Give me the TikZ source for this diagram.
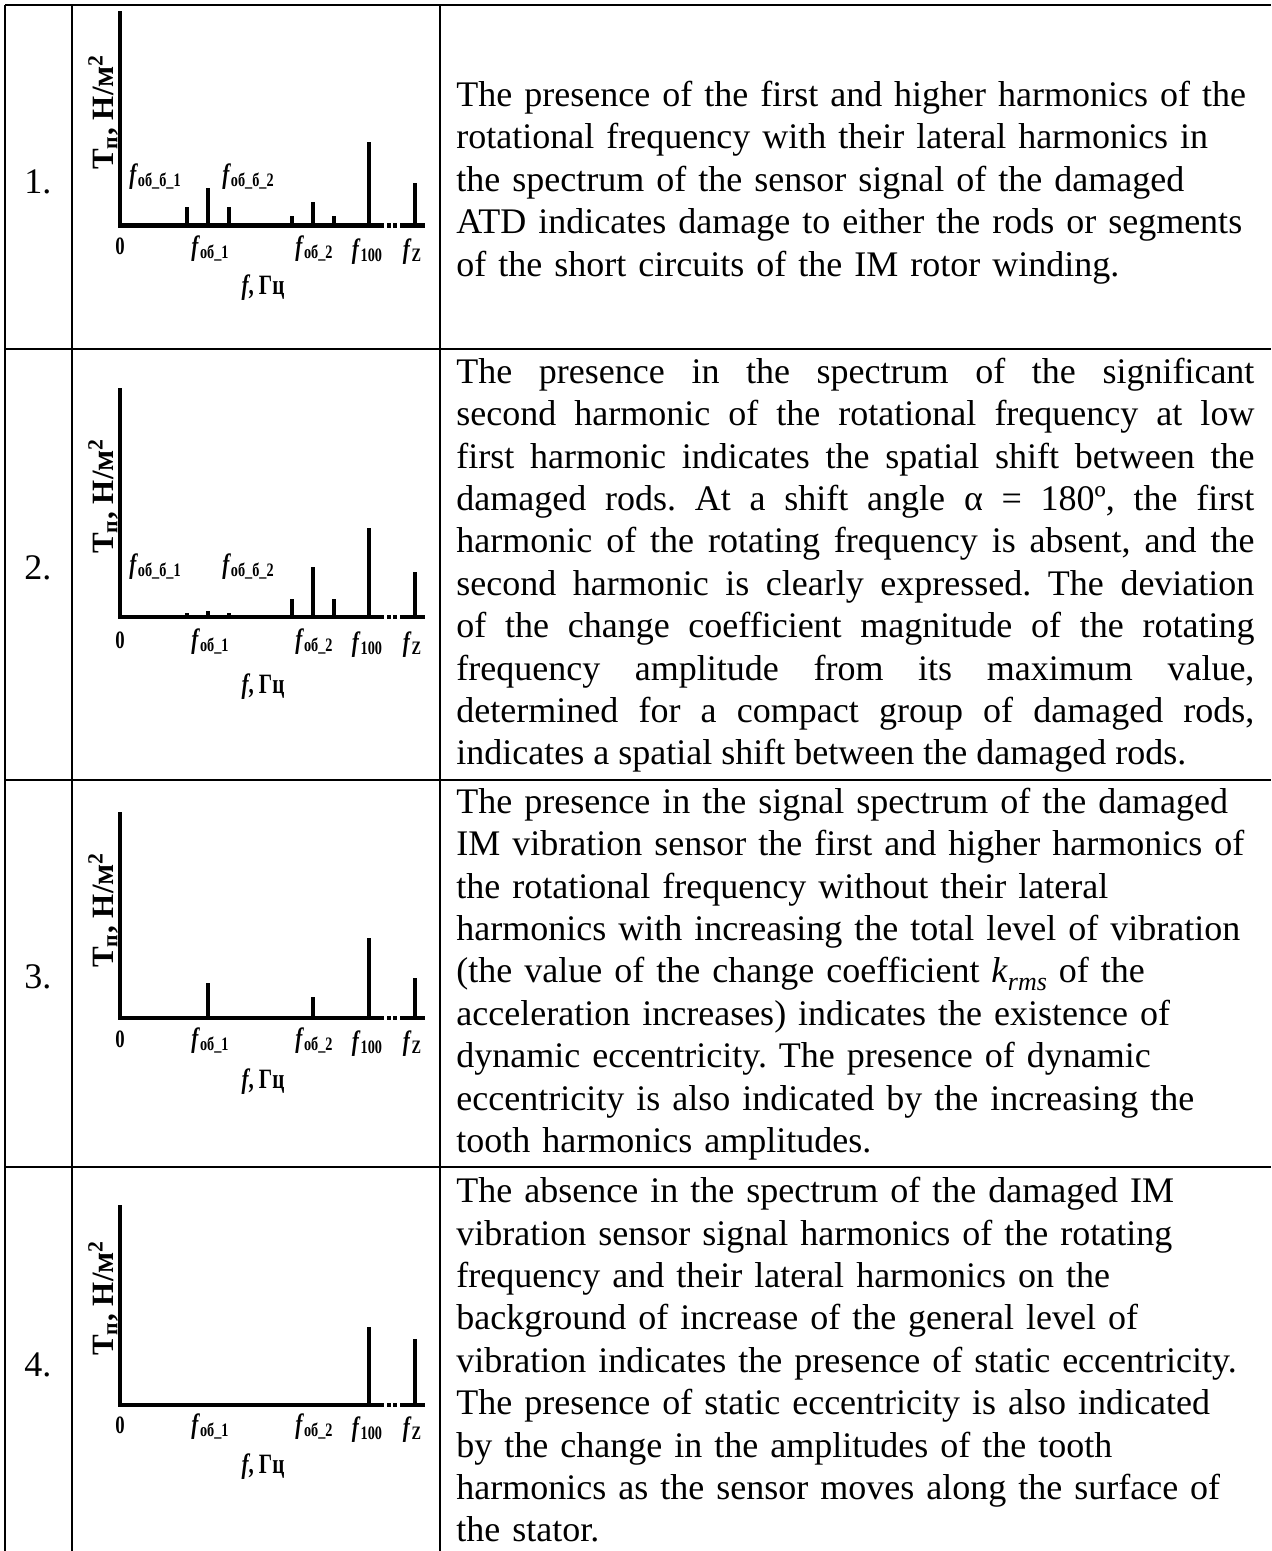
\documentclass[tikz,border=0pt]{standalone}
\usepackage{fontspec}
\setmainfont{Liberation Serif}
\newfontfamily\chartfont{Liberation Serif}[FakeStretch=0.75]
\newcommand{\fsub}[1]{{\fontsize{14}{14}\selectfont\textit{f}}\raisebox{-0.12em}{\fontsize{9.5}{10}\selectfont #1}}
\frenchspacing
\begin{document}
\begin{tikzpicture}[x=0.5pt,y=-0.5pt,
    rule/.style={line width=1pt},
    axisline/.style={line width=2.2pt},
    bar/.style={line width=2pt},
    desc/.style={anchor=base west,inner sep=0pt,text width=420pt,align=left,
      font=\fontsize{18}{21.2}\selectfont},
    num/.style={inner sep=0pt,font=\fontsize{18}{21.2}\selectfont},
    tick/.style={anchor=base,inner sep=0pt,font=\chartfont\bfseries\fontsize{12.5}{13}\selectfont},
    ylab/.style={rotate=90,inner sep=0pt,font=\bfseries\fontsize{15.5}{16}\selectfont}]
  \useasboundingbox (0,0) rectangle (1271,1551);

  % table rules
  \draw[rule] (5,5) -- (1271,5);
  \draw[rule] (5,349) -- (1271,349);
  \draw[rule] (5,780) -- (1271,780);
  \draw[rule] (5,1167) -- (1271,1167);
  \draw[rule] (5,5) -- (5,1551);
  \draw[rule] (72,5) -- (72,1551);
  \draw[rule] (440,5) -- (440,1551);

  \node[num] (n1) at (38,182) {1.};
  \node[num] (n2) at (38,568) {2.};
  \node[num] (n3) at (38,977) {3.};
  \node[num] (n4) at (38,1365) {4.};

  % chart 1
  \begin{scope}[shift={(0,225.5)}]
    \draw[axisline] (120,-214) -- (120,0) -- (384,0);
    \draw[axisline] (387,0) -- (391,0) (393,0) -- (397,0) (400,0) -- (425,0);
    \foreach \x/\h in {187/18.5,208/37.5,229/18.5,292/9.5,313/23.5,334/9.5,369/83.5,415/42.5}
      \draw[bar] (\x,0) -- (\x,-\h);
    \node[ylab] (yl1) at (103,-113.5) {Т\textsubscript{п}, Н/м\textsuperscript{2}};
    \node[tick] (sb1a) at (155,-41.5) {\fsub{об\_б\_1}};
    \node[tick] (sb1b) at (248,-41.5) {\fsub{об\_б\_2}};
    \node[tick] (zero1) at (120,29.5) {0};
    \node[tick] (fa1) at (210,30) {\fsub{об\_1}};
    \node[tick] (fb1) at (314,30) {\fsub{об\_2}};
    \node[tick] (fc1) at (367,33) {\fsub{100}};
    \node[tick] (fz1) at (412,33) {\fsub{Z}};
    \node[tick] (fx1) at (263,69) {{\fontsize{14}{14}\selectfont\textit{f}, Гц}};
  \end{scope}

  % chart 2
  \begin{scope}[shift={(0,617)}]
    \draw[axisline] (120,-229) -- (120,0) -- (384,0);
    \draw[axisline] (387,0) -- (391,0) (393,0) -- (397,0) (400,0) -- (425,0);
    \foreach \x/\h in {187/4,208/6,229/4,292/18,313/50,334/18,369/89,415/45}
      \draw[bar] (\x,0) -- (\x,-\h);
    \node[ylab] (yl2) at (103,-121) {Т\textsubscript{п}, Н/м\textsuperscript{2}};
    \node[tick] (sb2a) at (155,-44) {\fsub{об\_б\_1}};
    \node[tick] (sb2b) at (248,-44) {\fsub{об\_б\_2}};
    \node[tick] (zero2) at (120,31) {0};
    \node[tick] (fa2) at (210,31) {\fsub{об\_1}};
    \node[tick] (fb2) at (314,31) {\fsub{об\_2}};
    \node[tick] (fc2) at (367,34) {\fsub{100}};
    \node[tick] (fz2) at (412,34) {\fsub{Z}};
    \node[tick] (fx2) at (263,76) {{\fontsize{14}{14}\selectfont\textit{f}, Гц}};
  \end{scope}

  % chart 3
  \begin{scope}[shift={(0,1018)}]
    \draw[axisline] (120,-206) -- (120,0) -- (384,0);
    \draw[axisline] (387,0) -- (391,0) (393,0) -- (397,0) (400,0) -- (425,0);
    \foreach \x/\h in {208/35,313/21,369/80,415/40}
      \draw[bar] (\x,0) -- (\x,-\h);
    \node[ylab] (yl3) at (103,-108) {Т\textsubscript{п}, Н/м\textsuperscript{2}};
    \node[tick] (zero3) at (120,29) {0};
    \node[tick] (fa3) at (210,29) {\fsub{об\_1}};
    \node[tick] (fb3) at (314,29) {\fsub{об\_2}};
    \node[tick] (fc3) at (367,32) {\fsub{100}};
    \node[tick] (fz3) at (412,32) {\fsub{Z}};
    \node[tick] (fx3) at (263,70) {{\fontsize{14}{14}\selectfont\textit{f}, Гц}};
  \end{scope}

  % chart 4
  \begin{scope}[shift={(0,1405)}]
    \draw[axisline] (120,-200) -- (120,0) -- (384,0);
    \draw[axisline] (387,0) -- (391,0) (393,0) -- (397,0) (400,0) -- (425,0);
    \foreach \x/\h in {369/78,415/66}
      \draw[bar] (\x,0) -- (\x,-\h);
    \node[ylab] (yl4) at (103,-107) {Т\textsubscript{п}, Н/м\textsuperscript{2}};
    \node[tick] (zero4) at (120,28) {0};
    \node[tick] (fa4) at (210,28) {\fsub{об\_1}};
    \node[tick] (fb4) at (314,28) {\fsub{об\_2}};
    \node[tick] (fc4) at (367,31) {\fsub{100}};
    \node[tick] (fz4) at (412,31) {\fsub{Z}};
    \node[tick] (fx4) at (263,68) {{\fontsize{14}{14}\selectfont\textit{f}, Гц}};
  \end{scope}

  % descriptions
  \node[desc] (d1) at (456,106.5) {The presence of the first and higher harmonics of the\\
    rotational frequency with their lateral harmonics in\\
    the spectrum of the sensor signal of the damaged\\
    ATD indicates damage to either the rods or segments\\
    of the short circuits of the IM rotor winding.};
  \node[desc,text width=399pt,align=justify] (d2) at (456,383.3) {The presence in the spectrum of the significant\linebreak
    second harmonic of the rotational frequency at low\linebreak
    first harmonic indicates the spatial shift between the\linebreak
    damaged rods. At a shift angle α = 180º, the first\linebreak
    harmonic of the rotating frequency is absent, and the\linebreak
    second harmonic is clearly expressed. The deviation\linebreak
    of the change coefficient magnitude of the rotating\linebreak
    frequency amplitude from its maximum value,\linebreak
    determined for a compact group of damaged rods,\linebreak
    indicates a spatial shift between the damaged rods.};
  \node[desc] (d3) at (456,813.3) {The presence in the signal spectrum of the damaged\\
    IM vibration sensor the first and higher harmonics of\\
    the rotational frequency without their lateral\\
    harmonics with increasing the total level of vibration\\
    (the value of the change coefficient \textit{k}\raisebox{-0.2em}{\fontsize{13}{13}\selectfont\textit{rms}} of the\\
    acceleration increases) indicates the existence of\\
    dynamic eccentricity. The presence of dynamic\\
    eccentricity is also indicated by the increasing the\\
    tooth harmonics amplitudes.};
  \node[desc] (d4) at (456,1202.7) {The absence in the spectrum of the damaged IM\\
    vibration sensor signal harmonics of the rotating\\
    frequency and their lateral harmonics on the\\
    background of increase of the general level of\\
    vibration indicates the presence of static eccentricity.\\
    The presence of static eccentricity is also indicated\\
    by the change in the amplitudes of the tooth\\
    harmonics as the sensor moves along the surface of\\
    the stator.};
\end{tikzpicture}
\end{document}
